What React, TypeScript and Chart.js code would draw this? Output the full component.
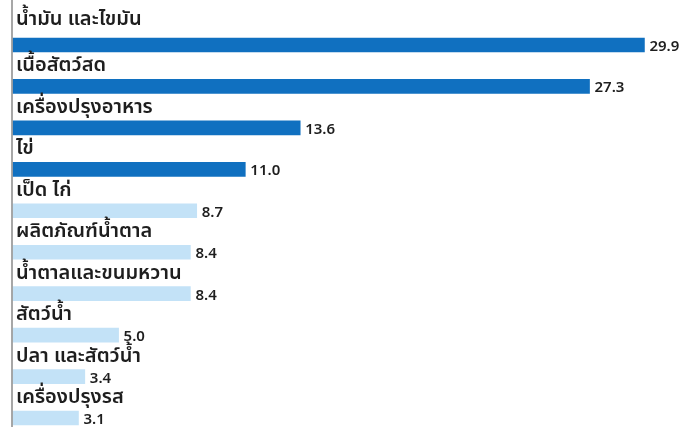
import React, { useEffect, useRef } from "react";
import { Chart, registerables } from "chart.js";

Chart.register(...registerables);

const categories: string[] = [
  "น้ำมัน และไขมัน",
  "เนื้อสัตว์สด",
  "เครื่องปรุงอาหาร",
  "ไข่",
  "เป็ด ไก่",
  "ผลิตภัณฑ์น้ำตาล",
  "น้ำตาลและขนมหวาน",
  "สัตว์น้ำ",
  "ปลา และสัตว์น้ำ",
  "เครื่องปรุงรส",
];
const values: number[] = [29.9, 27.3, 13.6, 11.0, 8.7, 8.4, 8.4, 5.0, 3.4, 3.1];
const valueLabels: string[] = ["29.9", "27.3", "13.6", "11.0", "8.7", "8.4", "8.4", "5.0", "3.4", "3.1"];
const highlightCount = 4;

const DARK = "#1070c0";
const LIGHT = "#c3e2f7";
const FONT = "'Noto Sans Thai', 'Noto Sans', 'DejaVu Sans', sans-serif";

const labelPlugin = {
  id: "customLabels",
  afterDatasetsDraw(chart: any) {
    const ctx = chart.ctx;
    const meta = chart.getDatasetMeta(0);
    ctx.save();
    ctx.strokeStyle = "#8a8a8a";
    ctx.lineWidth = 1.5;
    ctx.beginPath();
    ctx.moveTo(12, 0);
    ctx.lineTo(12, 427);
    ctx.stroke();
    meta.data.forEach((bar: any, i: number) => {
      ctx.fillStyle = "#1e1e1e";
      ctx.textBaseline = "middle";
      ctx.textAlign = "left";
      ctx.font = `600 20px ${FONT}`;
      ctx.fillText(categories[i], 16, bar.y - (i === 0 ? 24 : 19));
      ctx.font = `600 15px ${FONT}`;
      ctx.fillText(valueLabels[i], bar.x + 5, bar.y + 3);
    });
    ctx.restore();
  },
};

export default function App() {
  const ref = useRef<HTMLCanvasElement | null>(null);
  useEffect(() => {
    if (!ref.current) return;
    const chart = new Chart(ref.current, {
      type: "bar",
      data: {
        labels: categories,
        datasets: [
          {
            data: values,
            backgroundColor: values.map((_, i) => (i < highlightCount ? DARK : LIGHT)),
            barThickness: 14,
            borderWidth: 0,
            clip: false,
          } as any,
        ],
      },
      options: {
        indexAxis: "y",
        animation: false,
        responsive: false,
        layout: { padding: { left: 13, right: 0, top: 45, bottom: 15 } },
        plugins: { legend: { display: false }, tooltip: { enabled: false } },
        scales: {
          x: { display: false, min: 0, max: 32.2 },
          y: { display: false, offset: false },
        },
      },
      plugins: [labelPlugin],
    });
    return () => chart.destroy();
  }, []);
  return (
    <div style={{ position: "fixed", left: 0, top: 0, width: 693, height: 433, background: "#fff" }}>
      <canvas ref={ref} width={693} height={433} />
    </div>
  );
}
